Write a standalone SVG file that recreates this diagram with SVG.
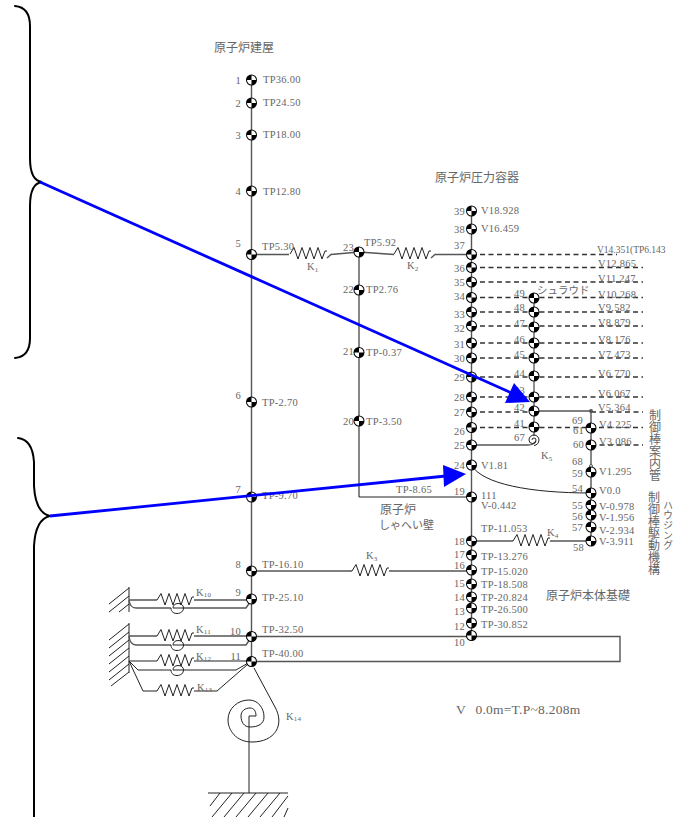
<svg xmlns="http://www.w3.org/2000/svg" xmlns:xlink="http://www.w3.org/1999/xlink" width="675" height="817" viewBox="0 0 675 817">
<style>
text{font-family:"Liberation Serif","Noto Sans CJK JP",serif;font-size:10.5px;fill:#666;letter-spacing:.25px}
.j{font-family:"Noto Sans CJK JP","Liberation Serif",sans-serif;font-size:12px;font-weight:400;letter-spacing:0}
.v{writing-mode:vertical-rl}
.e{text-anchor:end}
.s{font-size:7px}
.l{fill:none;stroke:#555;stroke-width:1.4}
.k{fill:none;stroke:#222;stroke-width:1}
.d{fill:none;stroke:#333;stroke-width:1.3;stroke-dasharray:5 3.5}
.b{fill:none;stroke:#000;stroke-width:2;stroke-linecap:round}
.a{stroke:#00f;stroke-width:2.8;fill:none}
</style>
<defs>
<g id="m"><circle r="5.500" fill="#000"/><path d="M0 0V-4.500A4.500 4.500 0 0 1 4.500 0ZM0 0V4.500A4.500 4.500 0 0 1-4.500 0Z" fill="#fff"/></g>
<path id="z" class="k" d="M0 0L4-6.500L8 5L12-6.500L16 5L20-6.500L24 5L28-6.500L32 5L35-3H37"/>
<path id="c" class="k" d="M-6 0C-6 4-3 5.500 0 5.500C4 5.500 6.500 3 6.500 0C6.500-3 4-4.500 1-4.500C-2-4.500-4-2.500-4 0H6"/>
</defs>

<g id="connectors">
<path class="l" d="M251.500 80V662M359 252V497M471.500 211V636M591 411V541"/>
<path class="k" d="M534 298V436M359 497H471.500"/>
<path class="d" d="M471.500 254.500H617M471.500 267.500H643M471.500 282H643M471.500 297.500H643M471.500 312H643M471.500 326H643M471.500 343H643M471.500 358H643M471.500 377H643M471.500 397H643M471.500 412H534M591 412H643M471.500 427.500H643M591 445H643"/>
<path class="l" d="M534 411H591M471.500 445H528Q534 445 536 441"/>
<path class="k" d="M534 440m-2 0a2 2 0 1 1 4 0a3.500 3.500 0 0 1-7 0a5 5 0 0 1 10 0a5.500 5.500 0 0 1-5 5.500"/>
<path class="k" d="M471.500 465C482 484 530 493 591 493"/>
<path class="l" d="M251.500 254.500H289M327 258L331 254.500L359 252M359 252L394 254.500M431 258L435 254.500H471.500"/>
<use href="#z" x="290" y="254"/><use href="#z" x="394" y="254"/>
<path class="l" d="M471.500 541H513M550 541H591M251.500 571H352M389 571H471.500"/>
<use href="#z" x="513" y="541"/><use href="#z" x="352" y="571"/>
<path class="l" d="M251.500 636.500H620V661.500H251.500"/>

<path class="k" d="M129 587V612M129 623V673"/>
<path class="k" d="M109 604L129 588M109 612L129 596M119 612L129 604M109 640L129 624M109 648L129 632M109 656L129 640M109 664L129 648M109 672L129 656M109 680L129 664M111 686L129 672"/>
<path class="l" d="M129 600H157M194 600H251.500"/>
<use href="#z" x="157" y="600"/>
<path class="l" d="M129 600Q130 608 136 608H171M183 608H246L251.500 600"/>
<use href="#c" x="177" y="608"/>
<path class="l" d="M129 636H157M194 636H251.500"/>
<use href="#z" x="157" y="636"/>
<path class="l" d="M129 636Q130 645 136 645H171M183 645H246L251.500 637"/>
<use href="#c" x="177" y="645"/>
<path class="k" d="M129 661H157M194 661H251.500"/>
<use href="#z" x="157" y="661"/>
<path class="k" d="M129 661L138 670H171M183 670H236L251.500 661"/>
<use href="#c" x="177" y="670"/>
<path class="k" d="M129 661L143 691H157M194 691H217L251.500 661"/>
<use href="#z" x="157" y="691"/>
<path class="k" d="M254 668L275 707C285 725 275 742 252 742C236 742 228 730 228 720C228 708 238 700 249 700C258 700 264 708 264 717C264 724 258 727 250 727C244 727 241 722 241 716C241 711 245 708 250 708C254 708 256 711 256 716H249V793"/>
<path class="k" d="M208 793H288M220 793L210 806M232 793L212 817M244 793L224 817M256 793L236 817M268 793L248 817M280 793L260 817M288 796L272 817M288 808L284 817"/>
</g>

<g id="titles">
<text class="j" x="214" y="52">原子炉建屋</text>
<text class="j" x="435" y="182">原子炉圧力容器</text>
<text class="j" x="537" y="294" style="font-size:10.500px">シュラウド</text>
<text class="j" x="546" y="600">原子炉本体基礎</text>
<text class="j" x="380" y="514">原子炉</text>
<text class="j" x="379" y="529" style="font-size:11px">しゃへい壁</text>
<text class="j v" x="655" y="409">制御棒案内管</text>
<text class="j v" x="654" y="491">制御棒駆動機構</text>
<text class="j v" x="668" y="500" style="font-size:10px">ハウジング</text>
<text x="456" y="714" style="font-size:13.500px;word-spacing:6px">V 0.0m=T.P~8.208m</text>
<text x="396" y="493">TP-8.65</text>
</g>

<g id="springs-labels">
<text x="307" y="270">K<tspan class="s" dy="2">1</tspan></text>
<text x="407" y="269">K<tspan class="s" dy="2">2</tspan></text>
<text x="366" y="559">K<tspan class="s" dy="2">3</tspan></text>
<text x="547" y="536">K<tspan class="s" dy="2">4</tspan></text>
<text x="541" y="459">K<tspan class="s" dy="2">5</tspan></text>
<text x="196" y="596">K<tspan class="s" dy="1">10</tspan></text>
<text x="196" y="633">K<tspan class="s" dy="1">11</tspan></text>
<text x="196" y="660">K<tspan class="s" dy="1">12</tspan></text>
<text x="197" y="691">K<tspan class="s" dy="1">13</tspan></text>
<text x="286" y="720">K<tspan class="s" dy="1">14</tspan></text>
</g>

<g id="n1"><use href="#m" x="251.500" y="80"/><text class="e" x="241" y="84">1</text><text x="263" y="83">TP36.00</text></g>
<g id="n2"><use href="#m" x="251.500" y="103"/><text class="e" x="241" y="107">2</text><text x="263" y="106">TP24.50</text></g>
<g id="n3"><use href="#m" x="251.500" y="135"/><text class="e" x="241" y="139">3</text><text x="263" y="138">TP18.00</text></g>
<g id="n4"><use href="#m" x="251.500" y="191"/><text class="e" x="241" y="195">4</text><text x="263" y="195">TP12.80</text></g>
<g id="n5"><use href="#m" x="251.500" y="254.500"/><text class="e" x="241" y="247">5</text><text x="262" y="250">TP5.30</text></g>
<g id="n6"><use href="#m" x="251.500" y="402"/><text class="e" x="241" y="399">6</text><text x="262" y="406">TP-2.70</text></g>
<g id="n7"><use href="#m" x="251.500" y="497"/><text class="e" x="241" y="493">7</text><text x="262" y="499">TP-9.70</text></g>
<g id="n8"><use href="#m" x="251.500" y="571"/><text class="e" x="241" y="568">8</text><text x="262" y="568">TP-16.10</text></g>
<g id="n9"><use href="#m" x="251.500" y="599"/><text class="e" x="241" y="596">9</text><text x="262" y="601">TP-25.10</text></g>
<g id="n10"><use href="#m" x="251.500" y="636.500"/><text class="e" x="241" y="635">10</text><text x="262" y="633">TP-32.50</text></g>
<g id="n11"><use href="#m" x="251.500" y="661.500"/><text class="e" x="241" y="660">11</text><text x="262" y="657">TP-40.00</text></g>

<g id="n23"><use href="#m" x="359" y="252"/><text class="e" x="354" y="251">23</text><text x="364" y="246">TP5.92</text></g>
<g id="n22"><use href="#m" x="359" y="290"/><text class="e" x="354" y="293">22</text><text x="366" y="293">TP2.76</text></g>
<g id="n21"><use href="#m" x="359" y="352.500"/><text class="e" x="354" y="355">21</text><text x="366" y="356">TP-0.37</text></g>
<g id="n20"><use href="#m" x="359" y="421"/><text class="e" x="354" y="425">20</text><text x="366" y="425">TP-3.50</text></g>

<g id="n39"><use href="#m" x="471.500" y="211"/><text class="e" x="465" y="215">39</text><text x="481" y="214">V18.928</text></g>
<g id="n38"><use href="#m" x="471.500" y="229"/><text class="e" x="465" y="233">38</text><text x="481" y="232">V16.459</text></g>
<g id="n37"><use href="#m" x="471.500" y="254.500"/><text class="e" x="465" y="249">37</text><text x="597" y="253" style="font-size:9.500px;letter-spacing:0">V14.351(TP6.143</text></g>
<g id="n36"><use href="#m" x="471.500" y="267.500"/><text class="e" x="465" y="272">36</text><text x="598" y="267">V12.865</text></g>
<g id="n35"><use href="#m" x="471.500" y="282"/><text class="e" x="465" y="286">35</text><text x="598" y="282">V11.247</text></g>
<g id="n34"><use href="#m" x="471.500" y="297.500"/><text class="e" x="465" y="300">34</text><text x="598" y="298">V10.268</text></g>
<g id="n33"><use href="#m" x="471.500" y="312"/><text class="e" x="465" y="318">33</text><text x="598" y="311">V9.582</text></g>
<g id="n32"><use href="#m" x="471.500" y="326"/><text class="e" x="465" y="332">32</text><text x="598" y="326">V8.879</text></g>
<g id="n31"><use href="#m" x="471.500" y="343"/><text class="e" x="465" y="348">31</text><text x="598" y="343">V8.176</text></g>
<g id="n30"><use href="#m" x="471.500" y="358"/><text class="e" x="465" y="362">30</text><text x="598" y="358">V7.473</text></g>
<g id="n29"><use href="#m" x="471.500" y="377"/><text class="e" x="465" y="381">29</text><text x="598" y="377">V6.770</text></g>
<g id="n28"><use href="#m" x="471.500" y="397"/><text class="e" x="465" y="401">28</text><text x="598" y="397">V6.067</text></g>
<g id="n27"><use href="#m" x="471.500" y="412"/><text class="e" x="465" y="416">27</text><text x="598" y="411">V5.364</text></g>
<g id="n26"><use href="#m" x="471.500" y="427.500"/><text class="e" x="465" y="435">26</text></g>
<g id="n25"><use href="#m" x="471.500" y="445"/><text class="e" x="465" y="449">25</text></g>
<g id="n24"><use href="#m" x="471.500" y="465"/><text class="e" x="465" y="469">24</text><text x="481" y="469">V1.81</text></g>
<g id="n19"><use href="#m" x="471.500" y="497"/><text class="e" x="465" y="495">19</text><text x="481" y="499">111</text><text x="481" y="509">V-0.442</text></g>
<g id="n18"><use href="#m" x="471.500" y="541"/><text class="e" x="465" y="545">18</text><text x="481" y="532">TP-11.053</text></g>
<g id="n17"><use href="#m" x="471.500" y="555"/><text class="e" x="465" y="558">17</text><text x="481" y="560">TP-13.276</text></g>
<g id="n16"><use href="#m" x="471.500" y="570"/><text class="e" x="465" y="569">16</text><text x="481" y="575">TP-15.020</text></g>
<g id="n15"><use href="#m" x="471.500" y="584"/><text class="e" x="465" y="587">15</text><text x="481" y="588">TP-18.508</text></g>
<g id="n14"><use href="#m" x="471.500" y="597"/><text class="e" x="465" y="601">14</text><text x="481" y="601">TP-20.824</text></g>
<g id="n13"><use href="#m" x="471.500" y="608"/><text class="e" x="465" y="615">13</text><text x="481" y="613">TP-26.500</text></g>
<g id="n12"><use href="#m" x="471.500" y="623"/><text class="e" x="465" y="630">12</text><text x="481" y="628">TP-30.852</text></g>
<g id="n10b"><use href="#m" x="471.500" y="635.500"/><text class="e" x="465" y="646">10</text></g>

<g id="n49"><use href="#m" x="534" y="298"/><text class="e" x="525" y="297">49</text></g>
<g id="n48"><use href="#m" x="534" y="312"/><text class="e" x="525" y="311">48</text></g>
<g id="n47"><use href="#m" x="534" y="327"/><text class="e" x="525" y="327">47</text></g>
<g id="n46"><use href="#m" x="534" y="343"/><text class="e" x="525" y="343">46</text></g>
<g id="n45"><use href="#m" x="534" y="358"/><text class="e" x="525" y="358">45</text></g>
<g id="n44"><use href="#m" x="534" y="376"/><text class="e" x="525" y="377">44</text></g>
<g id="n43"><use href="#m" x="534" y="397"/><text class="e" x="525" y="394">43</text></g>
<g id="n42"><use href="#m" x="534" y="411"/><text class="e" x="525" y="411">42</text></g>
<g id="n41"><use href="#m" x="534" y="427"/><text class="e" x="525" y="427">41</text></g>
<g id="n67"><text class="e" x="525" y="441">67</text></g>

<g id="n69"><circle cx="591" cy="411" r="2" fill="#555"/><text class="e" x="583" y="424">69</text></g>
<g id="n61"><use href="#m" x="591" y="428"/><text class="e" x="584" y="434">61</text><text x="599" y="428">V4.225</text></g>
<g id="n60"><use href="#m" x="591" y="445"/><text class="e" x="584" y="448">60</text><text x="599" y="445">V3.086</text></g>
<g id="n68"><circle cx="591" cy="466" r="1.500" fill="#fff" stroke="#555"/><text class="e" x="583" y="465">68</text></g>
<g id="n59"><use href="#m" x="591" y="472"/><text class="e" x="583" y="477">59</text><text x="599" y="475">V1.295</text></g>
<g id="n54"><use href="#m" x="591" y="493"/><text class="e" x="583" y="492">54</text><text x="599" y="494">V0.0</text></g>
<g id="n55"><use href="#m" x="591" y="505"/><text class="e" x="583" y="509">55</text><text x="599" y="510">V-0.978</text></g>
<g id="n56"><use href="#m" x="591" y="515"/><text class="e" x="583" y="520">56</text><text x="599" y="521">V-1.956</text></g>
<g id="n57"><use href="#m" x="591" y="527"/><text class="e" x="583" y="531">57</text><text x="599" y="534">V-2.934</text></g>
<g id="n58"><use href="#m" x="591" y="541"/><text class="e" x="584" y="551">58</text><text x="599" y="545">V-3.911</text></g>

<g id="braces">
<path class="b" d="M15 6C26 7 30 14 30 26V158C30 172 33 181 42 182C33 183 30 192 30 206V338C30 350 26 357 15 358"/>
<path class="b" d="M18 438C28 439 33 447 34 462V486C35 504 41 514 50 516C41 518 35 528 34 546V817"/>
</g>
<g id="arrows">
<path class="a" d="M40 182L516 395"/>
<path d="M514 383L505 403L530 402Z" fill="#00f"/>
<path class="a" d="M50 516L446 476"/>
<path d="M443 465L444 487L466 474Z" fill="#00f"/>
</g>
</svg>
